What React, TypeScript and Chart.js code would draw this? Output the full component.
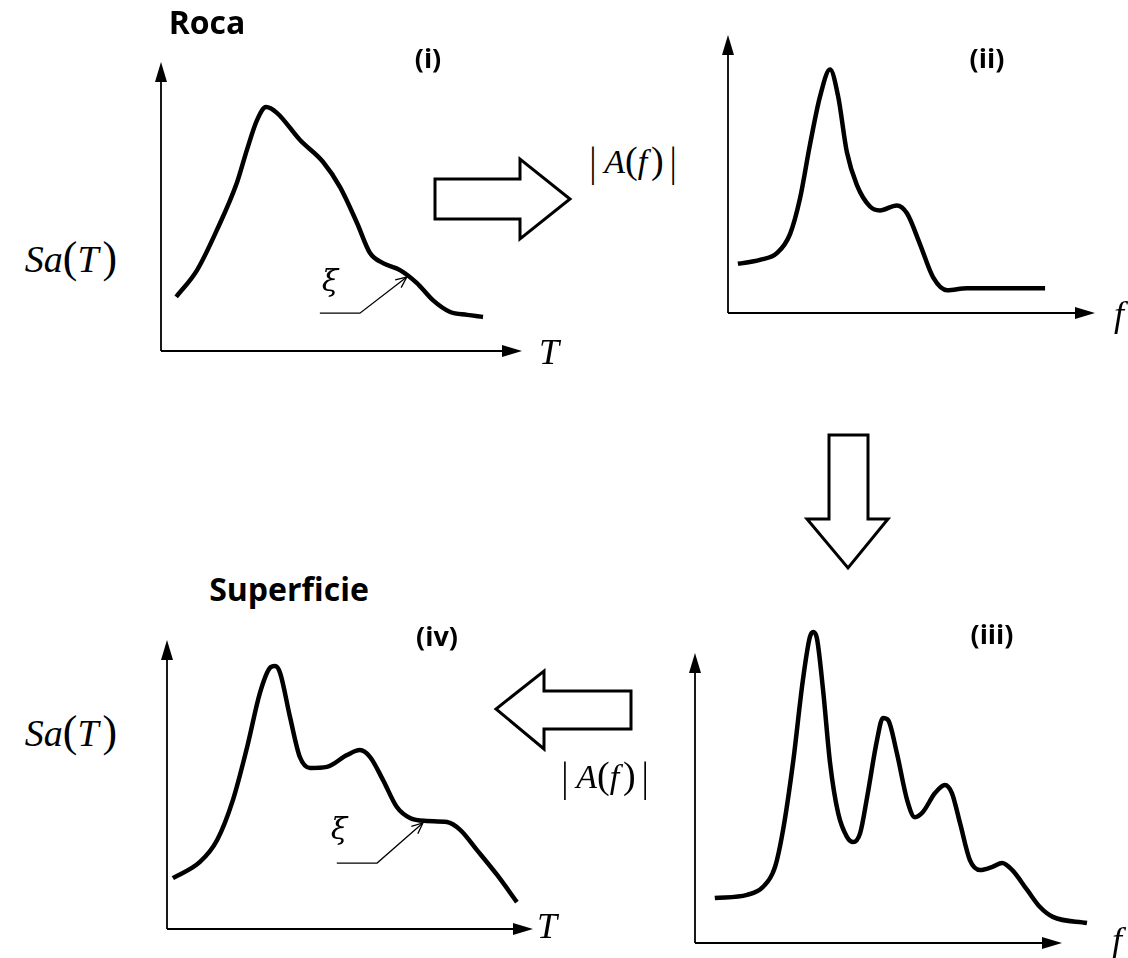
import React, { useEffect, useRef } from "react";
import { Chart, registerables } from "chart.js";

Chart.register(...registerables);

// ---------- data (panel units: 0..100 from origin to axis arrow tip) ----------
// (i) rock response spectrum Sa(T)
const rockPeriod = [4.2, 10.0, 15.5, 21.1, 23.8, 26.6, 29.1, 32.1, 38.5, 44.9, 49.6, 54.3, 57.9, 61.5, 66.2, 70.9, 75.3, 80.1, 84.8, 89.2];
const rockSa = [18.7, 28.0, 41.9, 58.5, 69.6, 79.9, 84.4, 82.4, 73.0, 65.4, 56.7, 44.3, 33.9, 30.4, 28.0, 23.5, 17.6, 13.5, 12.5, 11.8];
const rockLeaderX = [44.0, 55.1, 68.1];
const rockLeaderY = [13.1, 13.1, 25.6];

// (ii) rock Fourier amplitude |A(f)|
const rockFreq = [2.7, 8.7, 13.4, 16.9, 19.6, 22.3, 25.1, 27.8, 30.0, 32.4, 35.1, 38.7, 41.4, 46.0, 48.8, 52.3, 55.9, 59.7, 65.1, 74.1, 86.4];
const rockAmp = [17.7, 19.1, 21.6, 28.4, 41.1, 60.3, 78.0, 87.6, 78.0, 57.8, 46.1, 38.3, 36.9, 38.7, 35.8, 24.8, 12.8, 8.2, 8.9, 8.9, 8.9];

// (iii) surface Fourier amplitude |A(f)|
const surfFreq = [5.4, 14.2, 18.5, 21.8, 24.0, 26.7, 29.4, 31.3, 32.2, 33.2, 34.9, 36.8, 39.0, 41.4, 43.1, 45.0, 46.9, 49.6, 51.2, 52.6, 55.0, 57.8, 59.9, 62.1, 65.4, 68.1, 70.0, 72.2, 74.9, 77.7, 80.9, 83.7, 86.4, 90.5, 94.0, 97.5, 106.8];
const surfAmp = [15.5, 16.6, 19.3, 26.2, 39.0, 62.1, 90.7, 105.5, 107.2, 105.2, 87.2, 62.1, 44.8, 36.6, 34.8, 37.9, 50.3, 70.0, 77.6, 76.9, 65.5, 49.3, 43.4, 45.2, 51.7, 54.5, 51.7, 41.4, 28.6, 25.2, 26.2, 27.6, 25.2, 18.3, 12.4, 9.0, 6.9];

// (iv) surface response spectrum Sa(T)
const surfPeriod = [1.6, 9.0, 13.7, 18.0, 21.9, 25.4, 28.1, 29.5, 30.9, 33.6, 36.3, 39.1, 43.7, 49.2, 52.7, 55.5, 59.0, 62.8, 66.4, 71.0, 76.5, 80.1, 84.7, 90.2, 95.6];
const surfSa = [17.6, 23.2, 30.8, 44.6, 63.0, 81.7, 90.3, 91.0, 88.6, 73.4, 59.5, 55.7, 56.1, 60.2, 61.9, 59.5, 51.6, 42.2, 38.4, 37.4, 37.0, 34.3, 27.3, 18.7, 9.3];
const surfLeaderX = [46.4, 57.4, 69.9];
const surfLeaderY = [22.8, 22.8, 36.7];

// ---------- layout ----------
const PAD = 30;
const panels = {
  rock: { ox: 161, oy: 351, w: 361, h: 289 },
  rockF: { ox: 728, oy: 313, w: 367, h: 278 },
  surfF: { ox: 695, oy: 943, w: 367, h: 290 },
  surf: { ox: 167, oy: 929, w: 366, h: 289 },
};

const zip = (xs: number[], ys: number[]) => xs.map((x, i) => ({ x, y: ys[i] }));

const arrowAxes = {
  id: "arrowAxes",
  beforeDatasetsDraw(chart: any) {
    const { ctx, chartArea: a } = chart;
    const L = 20, W = 6;
    ctx.save();
    ctx.strokeStyle = "#000";
    ctx.fillStyle = "#000";
    ctx.lineWidth = 1.8;
    ctx.beginPath();
    ctx.moveTo(a.left, a.bottom);
    ctx.lineTo(a.right - L + 2, a.bottom);
    ctx.moveTo(a.left, a.bottom);
    ctx.lineTo(a.left, a.top + L - 2);
    ctx.stroke();
    ctx.beginPath();
    ctx.moveTo(a.right, a.bottom);
    ctx.lineTo(a.right - L, a.bottom - W);
    ctx.lineTo(a.right - L, a.bottom + W);
    ctx.closePath();
    ctx.fill();
    ctx.beginPath();
    ctx.moveTo(a.left, a.top);
    ctx.lineTo(a.left - W, a.top + L);
    ctx.lineTo(a.left + W, a.top + L);
    ctx.closePath();
    ctx.fill();
    ctx.restore();
  },
  afterDatasetsDraw(chart: any) {
    const ds = chart.data.datasets[1];
    if (!ds) return;
    const pts = ds.data;
    const n = pts.length;
    const sx = chart.scales.x, sy = chart.scales.y;
    const x1 = sx.getPixelForValue(pts[n - 2].x), y1 = sy.getPixelForValue(pts[n - 2].y);
    const x2 = sx.getPixelForValue(pts[n - 1].x), y2 = sy.getPixelForValue(pts[n - 1].y);
    const ang = Math.atan2(y2 - y1, x2 - x1);
    const len = 12, spread = 0.42;
    const { ctx } = chart;
    ctx.save();
    ctx.strokeStyle = "#000";
    ctx.lineWidth = 1.3;
    ctx.beginPath();
    ctx.moveTo(x2 - len * Math.cos(ang - spread), y2 - len * Math.sin(ang - spread));
    ctx.lineTo(x2, y2);
    ctx.lineTo(x2 - len * Math.cos(ang + spread), y2 - len * Math.sin(ang + spread));
    ctx.stroke();
    ctx.restore();
  },
};

type PanelProps = {
  box: { ox: number; oy: number; w: number; h: number };
  xs: number[];
  ys: number[];
  lx?: number[];
  ly?: number[];
};

function Panel({ box, xs, ys, lx, ly }: PanelProps) {
  const ref = useRef<HTMLCanvasElement | null>(null);
  useEffect(() => {
    if (!ref.current) return;
    const datasets: any[] = [
      {
        data: zip(xs, ys),
        borderColor: "#000",
        borderWidth: 4.5,
        pointRadius: 0,
        fill: false,
        cubicInterpolationMode: "monotone",
        clip: false,
        borderCapStyle: "butt",
      },
    ];
    if (lx && ly) {
      datasets.push({
        data: zip(lx, ly),
        borderColor: "#000",
        borderWidth: 1.3,
        pointRadius: 0,
        fill: false,
        tension: 0,
        clip: false,
      });
    }
    const chart = new Chart(ref.current, {
      type: "line",
      data: { datasets },
      options: {
        animation: false,
        responsive: false,
        maintainAspectRatio: false,
        devicePixelRatio: 1,
        events: [],
        layout: { padding: PAD },
        scales: {
          x: { type: "linear", min: 0, max: 100, display: false },
          y: { type: "linear", min: 0, max: 100, display: false },
        },
        plugins: { legend: { display: false }, tooltip: { enabled: false } },
      },
      plugins: [arrowAxes],
    } as any);
    return () => chart.destroy();
  }, []);
  const W = box.w + 2 * PAD;
  const H = box.h + 2 * PAD;
  return (
    <canvas
      ref={ref}
      width={W}
      height={H}
      style={{ position: "absolute", left: box.ox - PAD, top: box.oy - box.h - PAD, width: W, height: H }}
    />
  );
}

const serif = "'Liberation Serif', 'Times New Roman', serif";
const sans = "'Open Sans', 'Noto Sans', sans-serif";

function Label({ x, y, children, style }: { x: number; y: number; children: any; style?: any }) {
  return (
    <div
      style={{
        position: "absolute",
        left: x,
        top: y,
        transform: "translate(-50%, -50%)",
        whiteSpace: "nowrap",
        lineHeight: 1,
        color: "#000",
        ...style,
      }}
    >
      {children}
    </div>
  );
}

const boldStyle = { fontFamily: sans, fontWeight: 700, fontSize: 32 };
const tagStyle = { fontFamily: sans, fontWeight: 700, fontSize: 27 };
const mathStyle = { fontFamily: serif, fontSize: 38 };
const ampStyle = { fontFamily: serif, fontSize: 34 };
const axStyle = { fontFamily: serif, fontSize: 36, fontStyle: "italic" };
const xiStyle = { fontFamily: "'DejaVu Serif', serif", fontSize: 30, fontStyle: "italic" };

function SaT() {
  return (
    <span>
      <i>Sa</i>
      <span style={{ fontSize: "1.15em", fontWeight: 300 }}>(</span>
      <i>T</i>
      <span style={{ fontSize: "1.15em", marginLeft: 4 }}>)</span>
    </span>
  );
}

function AmpF() {
  return (
    <span>
      <span style={{ display: "inline-block", transform: "scaleY(1.25)" }}>|</span>
      <span style={{ marginLeft: 8 }}>
        <i>A</i>
        <span style={{ fontSize: "1.12em" }}>(</span>
        <i>f</i>
        <span style={{ fontSize: "1.12em", marginLeft: 4 }}>)</span>
      </span>
      <span style={{ display: "inline-block", transform: "scaleY(1.25)", marginLeft: 6 }}>|</span>
    </span>
  );
}

const hollow = { fill: "#fff", stroke: "#000", strokeWidth: 3, strokeLinejoin: "miter" as const };

export default function App() {
  return (
    <div style={{ position: "absolute", left: 0, top: 0, width: 1128, height: 958, background: "#fff", overflow: "hidden" }}>
      <svg width={1128} height={958} style={{ position: "absolute", left: 0, top: 0 }}>
        <polygon points="435,179 520,179 520,159 570,199 520,239 520,219 435,219" {...hollow} />
        <polygon points="829,435 868,435 868,519 888,519 848,568 807,519 829,519" {...hollow} />
        <polygon points="631,691 544,691 544,671 496,709 544,749 544,729 631,729" {...hollow} />
      </svg>
      <Panel box={panels.rock} xs={rockPeriod} ys={rockSa} lx={rockLeaderX} ly={rockLeaderY} />
      <Panel box={panels.rockF} xs={rockFreq} ys={rockAmp} />
      <Panel box={panels.surfF} xs={surfFreq} ys={surfAmp} />
      <Panel box={panels.surf} xs={surfPeriod} ys={surfSa} lx={surfLeaderX} ly={surfLeaderY} />

      <Label x={207} y={22} style={boldStyle}>Roca</Label>
      <Label x={289} y={589} style={boldStyle}>Superficie</Label>
      <Label x={428} y={57} style={tagStyle}>(i)</Label>
      <Label x={987} y={57} style={tagStyle}>(ii)</Label>
      <Label x={992} y={633} style={tagStyle}>(iii)</Label>
      <Label x={437} y={635} style={tagStyle}>(iv)</Label>

      <Label x={71} y={258} style={mathStyle}><SaT /></Label>
      <Label x={71} y={732} style={mathStyle}><SaT /></Label>
      <Label x={633} y={160} style={ampStyle}><AmpF /></Label>
      <Label x={605} y={775} style={ampStyle}><AmpF /></Label>

      <Label x={549} y={352} style={axStyle}>T</Label>
      <Label x={547} y={926} style={axStyle}>T</Label>
      <Label x={1119} y={314} style={axStyle}>f</Label>
      <Label x={1117} y={940} style={axStyle}>f</Label>
      <Label x={330} y={281} style={xiStyle}>ξ</Label>
      <Label x={339} y={829} style={xiStyle}>ξ</Label>
    </div>
  );
}
